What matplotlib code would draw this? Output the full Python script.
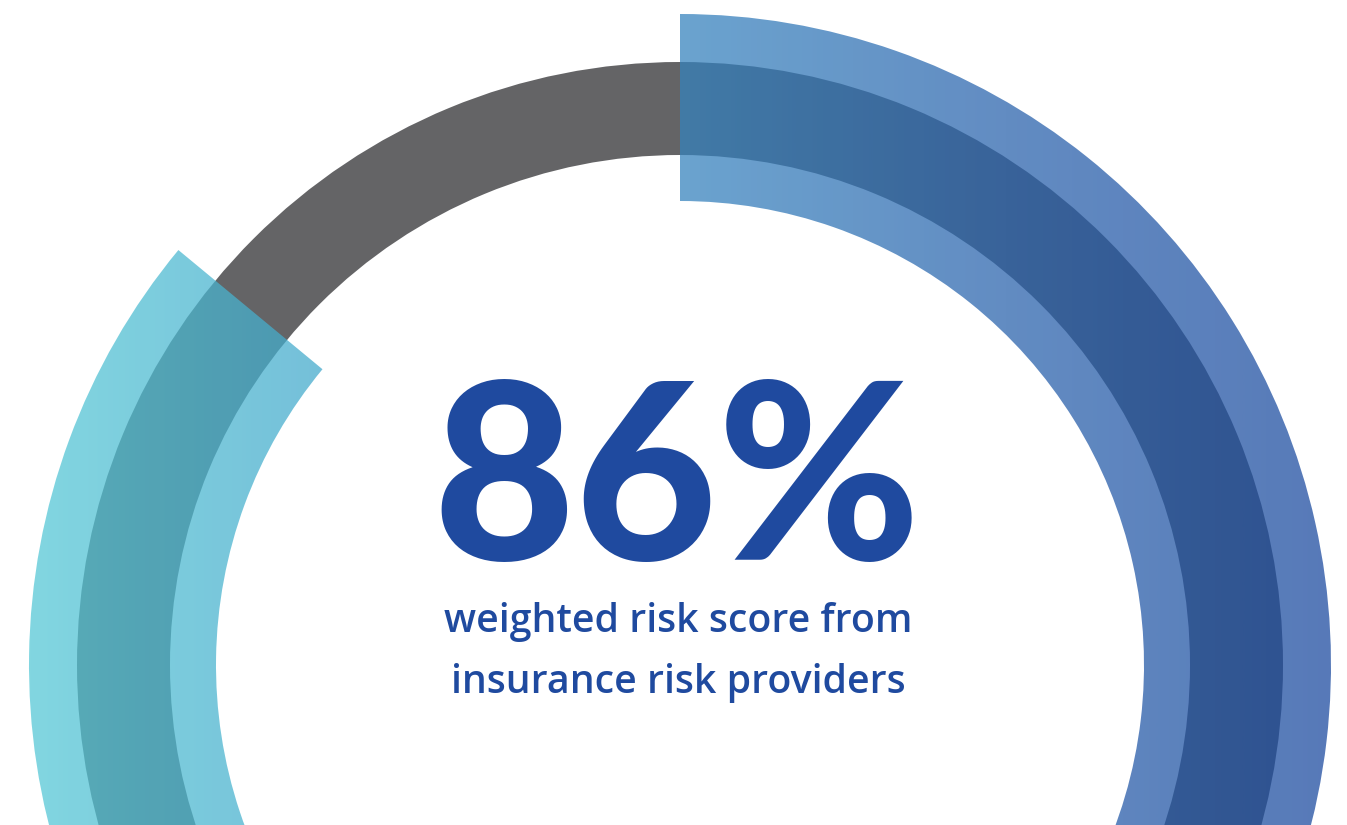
import numpy as np
import matplotlib
matplotlib.use("Agg")
import matplotlib.pyplot as plt
from matplotlib.patches import Wedge
from matplotlib.colors import LinearSegmentedColormap

# gauge data
score = 86            # percent filled
headline = f"{score}%"
caption = ["weighted risk score from", "insurance risk providers"]

# colours
track_color = "#646466"
text_color = "#1f4a9f"
band_stops = [(0.0, "#55c8d6"), (0.23, "#43a9cc"), (0.5, "#3683be"),
              (0.75, "#2a63ad"), (1.0, "#1b4a9f")]

W, H = 1347, 825
fig = plt.figure(figsize=(W / 100, H / 100), dpi=100)
ax = fig.add_axes([0, 0, 1, 1])
ax.set_xlim(0, W)
ax.set_ylim(0, H)
ax.axis("off")

cx, cy = 680, 160

# grey background track (full circle)
track = Wedge((cx, cy), 603, 0, 360, width=93, facecolor=track_color,
              edgecolor="none")
ax.add_patch(track)

# wide progress band, clockwise from 12 o'clock
sweep = 360 * score / 100
band = Wedge((cx, cy), 651, 90 - sweep, 90, width=187, facecolor="none",
             edgecolor="none")
ax.add_patch(band)

cmap = LinearSegmentedColormap.from_list("band", band_stops)
grad = np.linspace(0, 1, 512)[None, :]
img = ax.imshow(grad, cmap=cmap, extent=(27, 1333, 0, H), aspect="auto",
                alpha=0.74, interpolation="bilinear", zorder=2)
img.set_clip_path(band)
ax.set_xlim(0, W)
ax.set_ylim(0, H)

# centre labels
ax.text(677, 265, headline, ha="center", va="baseline", fontsize=177,
        fontweight="black", family=["Lato", "DejaVu Sans"], color=text_color,
        zorder=3)
ax.text(678, 193, caption[0], ha="center", va="baseline", fontsize=28.3,
        fontweight="semibold", family=["Open Sans", "DejaVu Sans"],
        color=text_color, zorder=3)
ax.text(678, 132, caption[1], ha="center", va="baseline", fontsize=28.3,
        fontweight="semibold", family=["Open Sans", "DejaVu Sans"],
        color=text_color, zorder=3)

fig.savefig("out.png", dpi=100)
